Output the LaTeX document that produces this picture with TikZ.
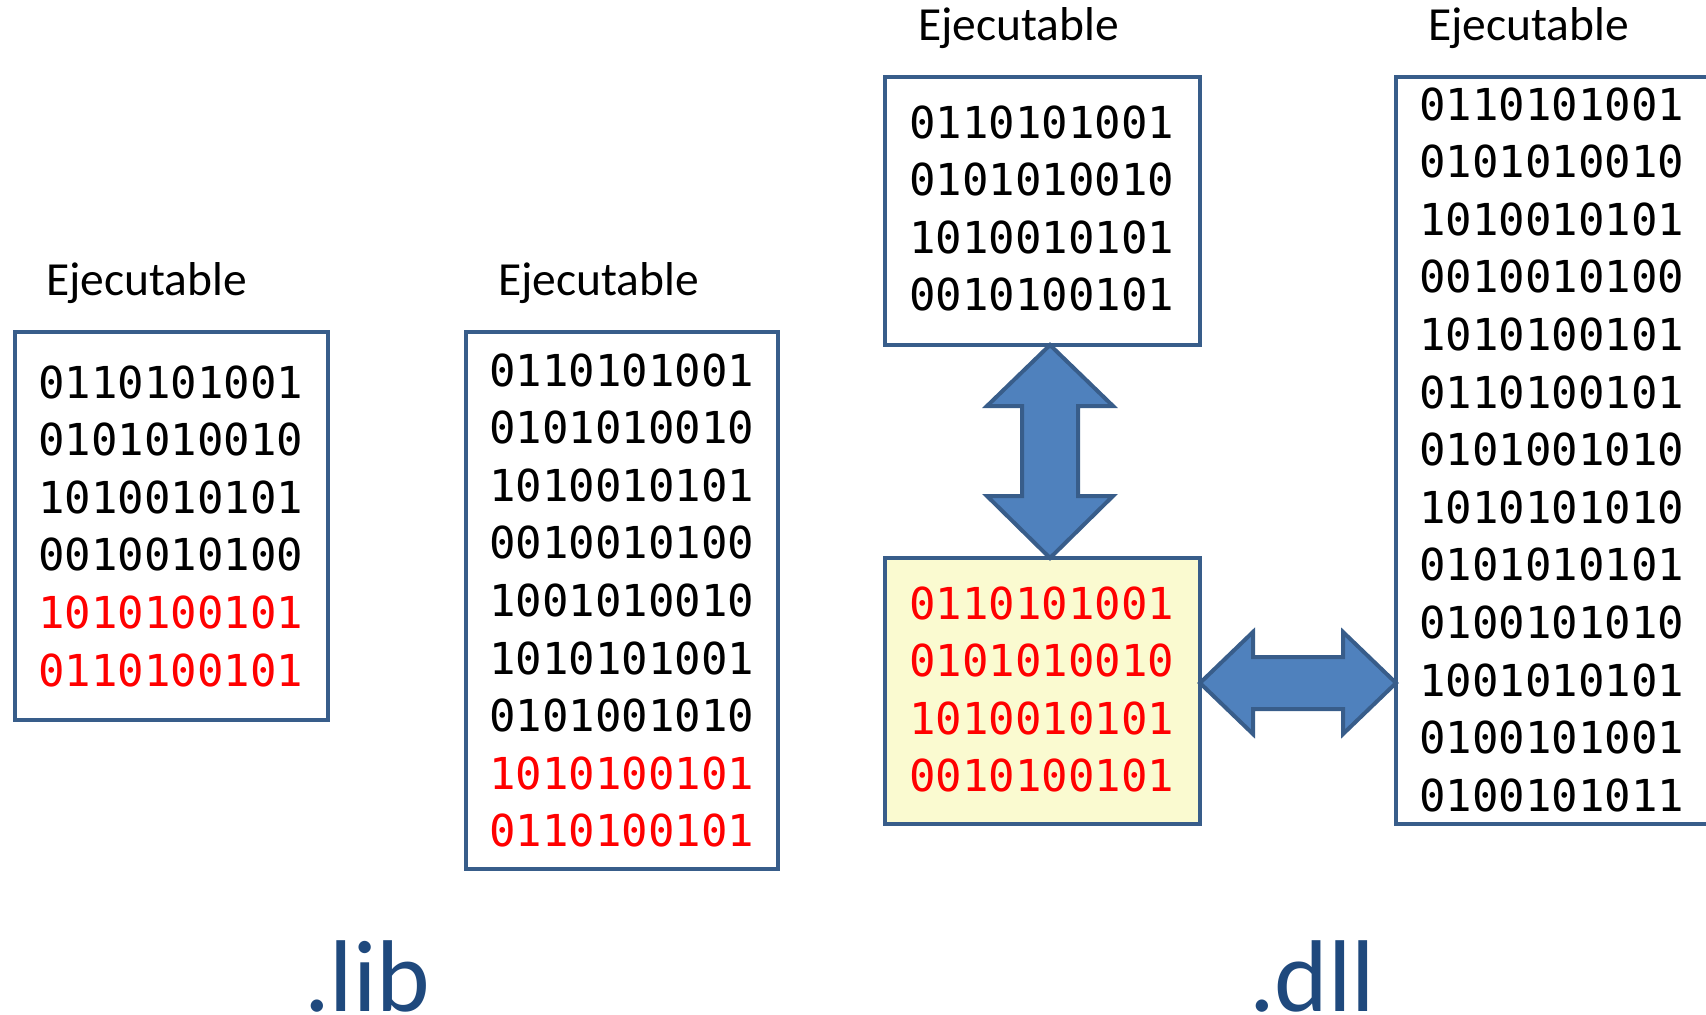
\documentclass[tikz,border=0pt]{standalone}
\usepackage{fontspec}
\setmainfont{Carlito}
\newfontfamily\binfont{DejaVu Sans Mono}
\usetikzlibrary{calc}

\definecolor{boxline}{RGB}{56,93,138}
\definecolor{arrowfill}{RGB}{79,129,189}
\definecolor{codeyellow}{RGB}{250,250,208}
\definecolor{labelblue}{RGB}{31,73,125}
\definecolor{bitred}{RGB}{255,0,0}

\tikzset{
  codebox/.style={draw=boxline, line width=4pt, fill=white, inner sep=0pt, outer sep=0pt, anchor=north west},
  bits/.style={font=\binfont\fontsize{44}{57.6}\selectfont, anchor=base west, inner sep=0pt},
  title/.style={font=\fontsize{47.5}{56}\selectfont, anchor=base west, inner sep=0pt},
  ext/.style={font=\fontsize{102}{120}\selectfont, text=labelblue, anchor=base west, inner sep=0pt},
  blockarrow/.style={draw=boxline, fill=arrowfill, line width=4pt, line join=miter},
}

\begin{document}
\begin{tikzpicture}[x=1pt,y=-1pt]
\useasboundingbox (0,0) rectangle (1706,1015);
\clip (0,0) rectangle (1706,1015);

% ---- static linking: two executables ----
\node[title] (tA) at (46,295) {Ejecutable};
\node[codebox, minimum width=313pt, minimum height=388pt] (exeA) at (15,332) {};
\foreach \t/\c [count=\i from 0] in {0110101001/black,0101010010/black,1010010101/black,
    0010010100/black,1010100101/bitred,0110100101/bitred}
  \node[bits, text=\c] (bitsA-\i) at (38,{398+57.6*\i}) {\t};

\node[title] (tB) at (498,295) {Ejecutable};
\node[codebox, minimum width=312pt, minimum height=537pt] (exeB) at (466,332) {};
\foreach \t/\c [count=\i from 0] in {0110101001/black,0101010010/black,1010010101/black,
    0010010100/black,1001010010/black,1010101001/black,0101001010/black,
    1010100101/bitred,0110100101/bitred}
  \node[bits, text=\c] (bitsB-\i) at (489,{386+57.6*\i}) {\t};

\node[ext] (lib) at (304,1011) {.lib};

% ---- dynamic linking: executable, library, second executable ----
\node[title] (tC) at (918,40) {Ejecutable};
\node[codebox, minimum width=315pt, minimum height=268pt] (exeC) at (885,77) {};
\foreach \t [count=\i from 0] in {0110101001,0101010010,1010010101,0010100101}
  \node[bits] (bitsC-\i) at (909,{138+57.6*\i}) {\t};

\node[codebox, fill=codeyellow, minimum width=315pt, minimum height=266pt] (dllD) at (885,558) {};
\foreach \t [count=\i from 0] in {0110101001,0101010010,1010010101,0010100101}
  \node[bits, text=bitred] (bitsD-\i) at (909,{619+57.6*\i}) {\t};

\node[title] (tE) at (1428,40) {Ejecutable};
\node[codebox, minimum width=400pt, minimum height=747pt] (exeE) at (1396,77) {};
\foreach \t [count=\i from 0] in {0110101001,0101010010,1010010101,0010010100,
    1010100101,0110100101,0101001010,1010101010,0101010101,0100101010,
    1001010101,0100101001,0100101011}
  \node[bits] (bitsE-\i) at (1419,{120+57.6*\i}) {\t};

\node[ext] (dll) at (1249,1011) {.dll};

% ---- block arrows ----
\path (exeC.south) ++(7.5,0) coordinate (vtop);
\path (dllD.north) ++(7.5,0) coordinate (vbot);
\draw[blockarrow] (vtop) -- ++(63,61) -- ++(-35,0) -- ++(0,90) -- ++(35,0)
  -- (vbot) -- ++(-63,-62) -- ++(35,0) -- ++(0,-90) -- ++(-35,0) -- cycle;

\path (dllD.east) ++(0,-8) coordinate (hleft);
\coordinate (hright) at (hleft -| exeE.west);
\draw[blockarrow] (hleft) -- ++(53,-51) -- ++(0,25) -- ++(90,0) -- ++(0,-25)
  -- (hright) -- ++(-53,51) -- ++(0,-25) -- ++(-90,0) -- ++(0,25) -- cycle;
\end{tikzpicture}
\end{document}
